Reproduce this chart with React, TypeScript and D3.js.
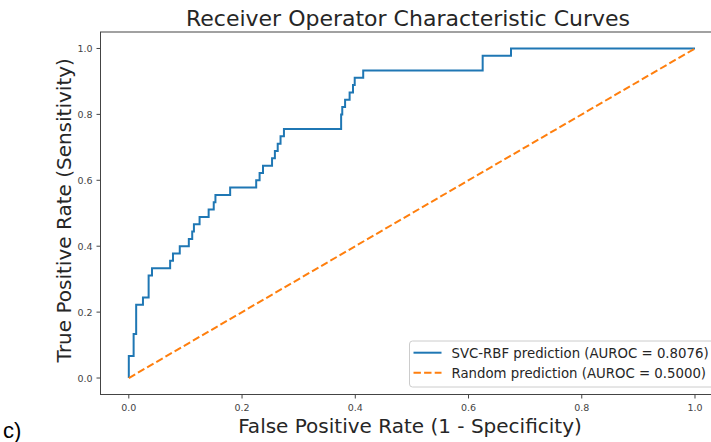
import React from "react";
import * as d3 from "d3";

const svcFpr = [0, 0, 0.0085, 0.013, 0.025, 0.035, 0.041, 0.073, 0.078, 0.09, 0.106, 0.112, 0.115, 0.125, 0.141, 0.15, 0.153, 0.179, 0.225, 0.231, 0.237, 0.253, 0.258, 0.263, 0.268, 0.274, 0.375, 0.377, 0.382, 0.39, 0.396, 0.399, 0.414, 0.625, 0.675, 1.0];
const svcTpr = [0, 0.0667, 0.1333, 0.2222, 0.2444, 0.3111, 0.3333, 0.3556, 0.3778, 0.4, 0.4222, 0.4444, 0.4667, 0.4889, 0.5111, 0.5333, 0.5556, 0.5778, 0.6, 0.6222, 0.6444, 0.6667, 0.6889, 0.7111, 0.7333, 0.7556, 0.8, 0.8222, 0.8444, 0.8667, 0.8889, 0.9111, 0.9333, 0.9778, 1.0, 1.0];
const randomFpr = [0, 1];
const randomTpr = [0, 1];
const xTicks = [0, 0.2, 0.4, 0.6, 0.8, 1.0];
const yTicks = [0, 0.2, 0.4, 0.6, 0.8, 1.0];
const seriesLabels = ["SVC-RBF prediction (AUROC = 0.8076)", "Random prediction (AUROC = 0.5000)"];
const title = "Receiver Operator Characteristic Curves";
const xLabel = "False Positive Rate (1 - Specificity)";
const yLabel = "True Positive Rate (Sensitivity)";
const panelLabel = "c)";

const W = 711, H = 442;
const left = 100.5, right = 723.3, top = 32, bottom = 394.5;
const FONT = "DejaVu Sans, sans-serif";
const BLUE = "#1f77b4", ORANGE = "#ff7f0e";

export default function App() {
  const x = d3.scaleLinear().domain([-0.05, 1.05]).range([left, right]);
  const y = d3.scaleLinear().domain([-0.05, 1.05]).range([bottom, top]);
  const fmt = d3.format(".1f");
  const svcLine = d3.line<number>().x((_, i) => x(svcFpr[i])).y((_, i) => y(svcTpr[i])).curve(d3.curveStepAfter);
  const randLine = d3.line<number>().x((_, i) => x(randomFpr[i])).y((_, i) => y(randomTpr[i]));
  const cy = (top + bottom) / 2 - 3;
  const lgX = 409.5, lgY = 341, lgW = 320, lgH = 46;
  return (
    <svg width={W} height={H} style={{ position: "absolute", left: 0, top: 0, background: "#fff" }} fontFamily={FONT}>
      <rect x={0} y={0} width={W} height={H} fill="#fff" />
      <defs>
        <clipPath id="plotclip">
          <rect x={left} y={top} width={right - left} height={bottom - top} />
        </clipPath>
      </defs>
      <text x={408} y={26} textAnchor="middle" fontSize={22} fill="#262626">{title}</text>
      <g clipPath="url(#plotclip)">
        <path d={svcLine(svcFpr) || ""} fill="none" stroke={BLUE} strokeWidth={2} />
        <path d={randLine(randomFpr) || ""} fill="none" stroke={ORANGE} strokeWidth={2} strokeDasharray="7.4,3.2" />
      </g>
      <rect x={left} y={top} width={right - left} height={bottom - top} fill="none" stroke="#444" strokeWidth={1} />
      {xTicks.map((t) => (
        <g key={"x" + t}>
          <line x1={x(t)} x2={x(t)} y1={bottom} y2={bottom + 4} stroke="#444" strokeWidth={1} />
          <text x={x(t)} y={bottom + 16} textAnchor="middle" fontSize={9.5} fill="#444">{fmt(t)}</text>
        </g>
      ))}
      {yTicks.map((t) => (
        <g key={"y" + t}>
          <line x1={left - 4} x2={left} y1={y(t)} y2={y(t)} stroke="#444" strokeWidth={1} />
          <text x={left - 8} y={y(t) + 3.5} textAnchor="end" fontSize={9.5} fill="#444">{fmt(t)}</text>
        </g>
      ))}
      <text x={410} y={433} textAnchor="middle" fontSize={20} fill="#262626">{xLabel}</text>
      <text transform={`translate(${71},${cy}) rotate(-90)`} textAnchor="middle" fontSize={20} fill="#262626">{yLabel}</text>
      <g>
        <rect x={lgX} y={lgY} width={lgW} height={lgH} rx={3} fill="#fff" fillOpacity={0.8} stroke="#ccc" strokeWidth={1} />
        <line x1={413.5} x2={441.5} y1={352.7} y2={352.7} stroke={BLUE} strokeWidth={2} />
        <line x1={413.5} x2={441.5} y1={372.7} y2={372.7} stroke={ORANGE} strokeWidth={2} strokeDasharray="7.4,3.2" />
        <text x={451.5} y={357.5} fontSize={13.3} fill="#262626">{seriesLabels[0]}</text>
        <text x={451.5} y={377.5} fontSize={13.3} fill="#262626">{seriesLabels[1]}</text>
      </g>
      <text x={3} y={438} fontSize={22} fontFamily="Liberation Sans, Arial, sans-serif" fill="#000">{panelLabel}</text>
    </svg>
  );
}
